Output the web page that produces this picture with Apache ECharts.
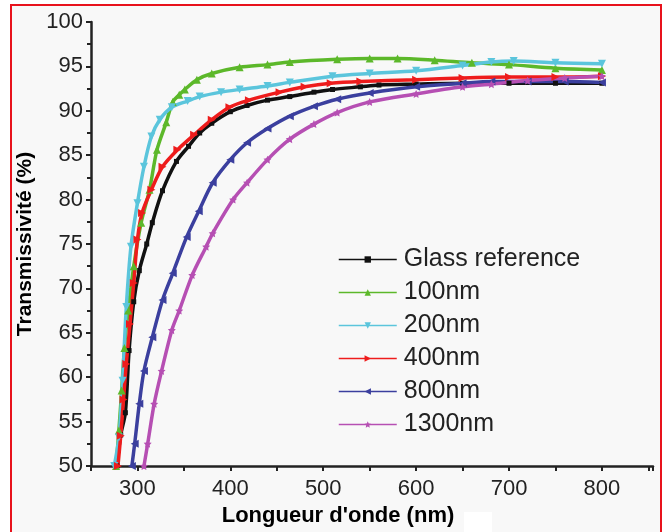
<!DOCTYPE html>
<html>
<head>
<meta charset="utf-8">
<script src="https://cdn.jsdelivr.net/npm/echarts@6/dist/echarts.min.js"></script>
<style>
    html, body { margin: 0; padding: 0; background: #fff; }
    #frame { position: absolute; left: 10px; top: 4px; width: 648px; height: 540px; border: 2.5px solid #e8121c; background: #f8f8f8; }
    #patch { position: absolute; left: 464px; top: 512px; width: 28px; height: 20px; background: #fff; }
    #chart { position: absolute; left: 0; top: 0; width: 667px; height: 532px; }
</style>
</head>
<body>
<div id="frame"></div>
<div id="patch"></div>
<div id="chart"></div>
<script>
    // values (wavelength in nm, transmissivity in %)
    var seriesNames = ['Glass reference', '100nm', '200nm', '400nm', '800nm', '1300nm'];
    var xLabelValues = [300, 400, 500, 600, 700, 800];

    var glassNm = [278, 282, 287, 291, 296, 302, 310, 316, 327, 342, 355, 367, 380, 400, 418, 440, 464, 490, 510, 540, 560, 600, 650, 700, 750, 800];
    var glassT  = [50, 53.5, 56, 63, 68.5, 72, 75, 77.4, 81, 84.3, 86, 87.5, 88.6, 89.9, 90.6, 91.2, 91.6, 92.1, 92.4, 92.7, 92.9, 93.0, 93.1, 93.1, 93.1, 93.1];

    var nm100Nm = [277, 280, 283, 286, 290, 296, 304, 313, 321, 331, 338, 345, 351, 364, 380, 410, 440, 464, 515, 550, 580, 620, 660, 700, 750, 800];
    var nm100T  = [50, 54, 58.5, 63.3, 67.5, 72.5, 77.4, 81.1, 85.6, 88.7, 91, 91.8, 92.4, 93.5, 94.2, 94.9, 95.2, 95.5, 95.8, 95.9, 95.9, 95.7, 95.4, 95.2, 94.8, 94.6];

    var nm200Nm = [275, 280, 284, 288, 293, 300, 307, 315, 324, 337, 354, 367, 390, 410, 440, 464, 510, 550, 600, 650, 681, 705, 750, 800];
    var nm200T  = [50, 53.2, 59.6, 67.9, 74.7, 79.6, 83.7, 87.1, 89, 90.4, 91.1, 91.6, 92.1, 92.4, 92.8, 93.2, 93.9, 94.2, 94.5, 95.1, 95.5, 95.6, 95.4, 95.3];

    var nm400Nm = [279, 282, 285, 288, 292, 296, 300, 305, 315, 327, 343, 361, 380, 399, 420, 453, 480, 508, 540, 600, 650, 700, 750, 800];
    var nm400T  = [50, 53.4, 57.5, 61.5, 66, 70.6, 75.5, 78.5, 81.1, 83.7, 85.6, 87.3, 89, 90.4, 91.2, 92.1, 92.7, 93.1, 93.3, 93.5, 93.7, 93.8, 93.8, 93.9];

    var nm800Nm = [294, 297, 302, 307, 316, 327, 338, 353, 366, 381, 400, 418, 440, 464, 490, 515, 550, 600, 650, 681, 720, 760, 800];
    var nm800T  = [50, 52.5, 57, 60.7, 64.5, 68.7, 71.7, 75.8, 78.7, 81.9, 84.5, 86.4, 88, 89.4, 90.5, 91.3, 92.0, 92.7, 93.1, 93.3, 93.3, 93.3, 93.2];

    var nm1300Nm = [307, 311, 318, 326, 337, 345, 359, 374, 381, 403, 418, 440, 464, 490, 515, 550, 600, 650, 681, 720, 760, 800];
    var nm1300T  = [50, 52.5, 57, 60.7, 65.3, 67.5, 71.5, 74.7, 76.2, 80, 81.9, 84.5, 86.8, 88.5, 89.8, 91.0, 91.9, 92.7, 93.0, 93.4, 93.7, 93.9];

    var colors = ['#111111', '#5cb82a', '#5bc5dc', '#ee1c1c', '#3b3f9e', '#b64fb3'];
    var symbols = ['rect', 'triangle', 'triangle', 'triangle', 'triangle',
        'path://M0,-10L2.9,-4L9.5,-3.1L4.7,1.5L5.9,8.1L0,5L-5.9,8.1L-4.7,1.5L-9.5,-3.1L-2.9,-4Z'];
    var rotates = [0, 0, 180, -90, 90, 0];
    var sizes = [5, 8, 8, 8, 8, 8];

    function toPairs(nm, t) {
        var out = [];
        for (var i = 0; i < nm.length; i++) {
            out.push([nm[i], t[i]]);
        }
        return out;
    }

    var allData = [
        toPairs(glassNm, glassT),
        toPairs(nm100Nm, nm100T),
        toPairs(nm200Nm, nm200T),
        toPairs(nm400Nm, nm400T),
        toPairs(nm800Nm, nm800T),
        toPairs(nm1300Nm, nm1300T)
    ];

    var series = [];
    for (var s = 0; s < seriesNames.length; s++) {
        series.push({
            name: seriesNames[s],
            type: 'line',
            data: allData[s],
            smooth: 0.3,
            symbol: symbols[s],
            symbolSize: sizes[s],
            symbolRotate: rotates[s],
            showAllSymbol: true,
            clip: true,
            lineStyle: { color: colors[s], width: 3.5 },
            itemStyle: { color: colors[s] },
            emphasis: { disabled: true }
        });
    }

    var font = 'Liberation Sans, Arial, sans-serif';

    var option = {
        backgroundColor: 'transparent',
        animation: false,
        color: colors,
        grid: { left: 91, right: 14, top: 22, bottom: 66 },
        legend: {
            orient: 'vertical',
            left: 333,
            top: 242,
            itemWidth: 58,
            itemHeight: 8,
            itemGap: 8,
            lineStyle: { width: 1.5 },
            textStyle: { fontFamily: font, fontSize: 25, lineHeight: 25, color: '#222', padding: [0, 0, 0, 2] },
            data: seriesNames
        },
        xAxis: {
            type: 'value',
            min: 250,
            max: 855,
            interval: 50,
            name: "Longueur d'onde (nm)",
            nameLocation: 'middle',
            nameGap: 39,
            nameTextStyle: { fontFamily: font, fontSize: 22, fontWeight: 'bold', color: '#000', padding: [0, 68, 0, 0] },
            axisLine: { show: true, onZero: false, lineStyle: { color: '#222', width: 2.5 } },
            axisTick: { show: true, inside: false, length: 5, lineStyle: { color: '#222', width: 2 } },
            axisLabel: {
                margin: 12, fontFamily: font, fontSize: 22, color: '#222',
                formatter: function (v) { return xLabelValues.indexOf(v) >= 0 ? String(v) : ''; }
            },
            splitLine: { show: false }
        },
        yAxis: {
            type: 'value',
            min: 50,
            max: 100,
            interval: 5,
            name: 'Transmissivité (%)',
            nameLocation: 'middle',
            nameGap: 53,
            nameRotate: 90,
            nameTextStyle: { fontFamily: font, fontSize: 21, fontWeight: 'bold', color: '#000' },
            axisLine: { show: true, lineStyle: { color: '#222', width: 2.5 } },
            axisTick: { show: true, inside: false, length: 5, lineStyle: { color: '#222', width: 2 } },
            minorTick: { show: true, splitNumber: 2, length: 4, lineStyle: { color: '#222', width: 2 } },
            axisLabel: { margin: 8, fontFamily: font, fontSize: 22, color: '#222' },
            splitLine: { show: false }
        },
        series: series
    };

    var myChart = echarts.init(document.getElementById('chart'));
    myChart.setOption(option);
</script>
</body>
</html>
